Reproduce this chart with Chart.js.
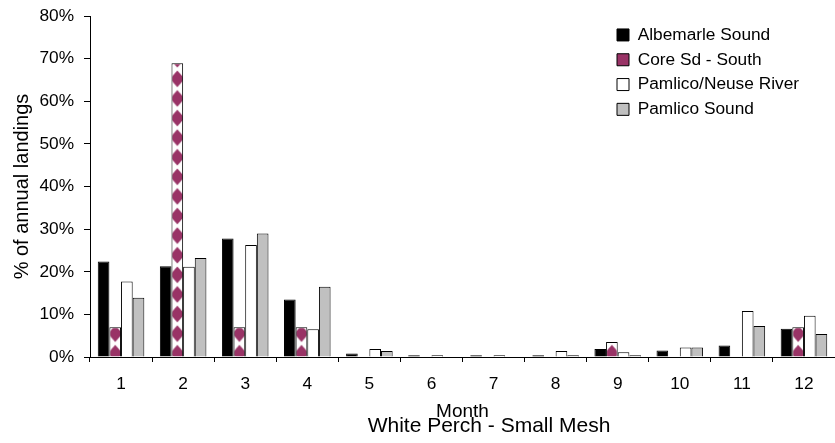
<!DOCTYPE html>
<html>
<head>
<meta charset="utf-8">
<script src="https://cdn.jsdelivr.net/npm/chart.js@4"></script>
<style>
  html, body { margin: 0; padding: 0; background: #fff; }
  canvas { display: block; }
</style>
</head>
<body>
<canvas id="perchChart" width="835" height="443"></canvas>
<script>
// Monthly share of annual landings (%), white perch small mesh
const months = ['1', '2', '3', '4', '5', '6', '7', '8', '9', '10', '11', '12'];
const albemarleSound = [22.4, 21.3, 27.8, 13.5, 0.8, 0.4, 0.4, 0.4, 1.9, 1.5, 2.7, 6.6];
const coreSdSouth = [7.0, 68.9, 7.0, 7.0, 0, 0, 0, 0, 3.5, 0, 0, 7.0];
const pamlicoNeuse = [17.7, 21.2, 26.3, 6.5, 1.9, 0.4, 0.4, 1.4, 1.1, 2.2, 10.8, 9.7];
const pamlicoSound = [13.9, 23.2, 29.0, 16.5, 1.4, 0, 0, 0.4, 0.4, 2.2, 7.3, 5.4];
const yTicks = [0, 10, 20, 30, 40, 50, 60, 70, 80];

const CORE_COLOR = '#993366';

Chart.defaults.font.family = '"Liberation Sans", Arial, sans-serif';
Chart.defaults.color = '#000';

// diamond fill for the Core Sd bars, one pattern per bar so each can be lined up
const tile = document.createElement('canvas');
tile.width = 12;
tile.height = 20;
const tctx = tile.getContext('2d');
tctx.fillStyle = '#fff';
tctx.fillRect(0, 0, 12, 20);
tctx.fillStyle = CORE_COLOR;
tctx.beginPath();
tctx.moveTo(6, 1.5);
tctx.lineTo(13.5, 10);
tctx.lineTo(6, 18.5);
tctx.lineTo(-1.5, 10);
tctx.closePath();
tctx.fill();
const corePatterns = months.map(() => tctx.createPattern(tile, 'repeat'));

const alignDiamonds = {
    id: 'alignDiamonds',
    beforeDatasetsDraw(chart) {
        const meta = chart.getDatasetMeta(1);
        meta.data.forEach((bar, i) => {
            const sx = bar.width / 12;
            const sy = 19.6 / 20;
            const m = new DOMMatrix()
                .translate(bar.x - bar.width / 2, bar.base - 3.3 - 10 * sy)
                .scale(sx, sy);
            corePatterns[i].setTransform(m);
        });
    }
};

// legend sits inside the plot, title is centred under the month label
const placeBlocks = {
    id: 'placeBlocks',
    afterLayout(chart) {
        const lg = chart.legend;
        lg.left = 609.5;
        lg.right = lg.left + 220;
        lg.top = 18.8;
        lg.bottom = lg.top + 200;
        const tb = chart.titleBlock;
        tb.left += 71.5;
        tb.right += 71.5;
    }
};

const config = {
    type: 'bar',
    data: {
        labels: months,
        datasets: [
            { label: 'Albemarle Sound', data: albemarleSound, backgroundColor: '#000000' },
            { label: 'Core Sd - South', data: coreSdSouth, backgroundColor: (c) => corePatterns[c.dataIndex || 0] },
            { label: 'Pamlico/Neuse River', data: pamlicoNeuse, backgroundColor: '#ffffff' },
            { label: 'Pamlico Sound', data: pamlicoSound, backgroundColor: '#c0c0c0' }
        ]
    },
    options: {
        responsive: false,
        animation: false,
        devicePixelRatio: 1,
        layout: { padding: { left: 0, right: 0, top: 16, bottom: 6 } },
        datasets: {
            bar: {
                borderColor: '#000',
                borderWidth: 1,
                categoryPercentage: 0.75,
                barPercentage: 1.0
            }
        },
        plugins: {
            legend: {
                position: 'chartArea',
                align: 'start',
                labels: {
                    boxWidth: 12,
                    boxHeight: 12,
                    padding: 7.5,
                    font: { size: 17.3 },
                    color: '#000',
                    generateLabels(chart) {
                        const items = Chart.defaults.plugins.legend.labels.generateLabels(chart);
                        items.forEach((item) => {
                            if (typeof item.fillStyle !== 'string') item.fillStyle = CORE_COLOR;
                        });
                        return items;
                    }
                }
            },
            title: {
                display: true,
                position: 'bottom',
                text: 'White Perch - Small Mesh',
                font: { size: 21, weight: 'normal', lineHeight: 1 },
                padding: { top: 0, bottom: 0 },
                color: '#000'
            },
            tooltip: { enabled: false }
        },
        scales: {
            x: {
                afterFit(scale) { scale.height = 59; },
                grid: {
                    drawOnChartArea: false,
                    offset: true,
                    tickLength: 5,
                    color: '#000'
                },
                border: { display: true, color: '#000', width: 1 },
                ticks: { font: { size: 17.3 }, padding: 12, color: '#000', maxRotation: 0 },
                title: {
                    display: true,
                    text: 'Month',
                    font: { size: 19, lineHeight: 1 },
                    padding: { top: 0, bottom: -5 },
                    color: '#000'
                }
            },
            y: {
                min: 0,
                max: 80,
                afterFit(scale) {
                    scale.width = 90;
                    scale.paddingTop = 0;
                    scale.paddingBottom = 0;
                },
                afterBuildTicks(scale) { scale.ticks = yTicks.map(v => ({ value: v })); },
                grid: {
                    drawOnChartArea: false,
                    tickLength: 6,
                    color: '#000'
                },
                border: { display: true, color: '#000', width: 1 },
                ticks: {
                    font: { size: 17.3 },
                    padding: 10,
                    color: '#000',
                    callback: (v) => v + '%'
                },
                title: {
                    display: true,
                    text: '% of annual landings',
                    font: { size: 20, lineHeight: 1.2 },
                    padding: { top: 10, bottom: 0 },
                    color: '#000'
                }
            }
        }
    },
    plugins: [alignDiamonds, placeBlocks]
};

const perchChart = new Chart(document.getElementById('perchChart'), config);
</script>
</body>
</html>
